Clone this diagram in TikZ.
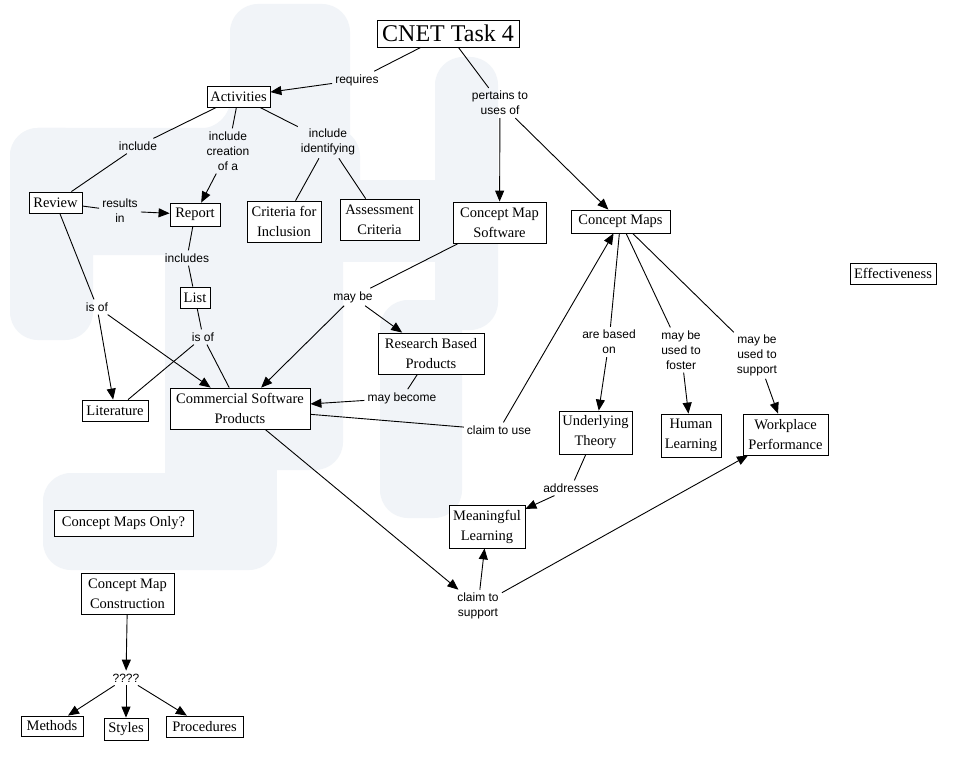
\documentclass[tikz,border=0pt]{standalone}
\usepackage{fontspec}
\setmainfont{Liberation Serif}
\newfontfamily\labelfont{Liberation Sans}
\usetikzlibrary{arrows.meta}
\definecolor{wm}{RGB}{241,244,248}
\begin{document}
\begin{tikzpicture}[x=1pt,y=-1pt,
  concept/.style={draw,line width=0.8pt,fill=white,inner sep=0pt,align=center,font=\fontsize{14.5}{20}\selectfont},
  lbl/.style={inner sep=3pt,align=center,font=\labelfont\fontsize{12}{15}\selectfont},
  con/.style={line width=0.9pt},
  arr/.style={con,-{Triangle[length=11pt,width=9pt]}},
  wmshape/.style={fill=wm,rounded corners=28pt},
]
\useasboundingbox[fill=white] (0,0) rectangle (961,762);
% watermark
\fill[wmshape] (10,128) rectangle (93,340);
\fill[wmshape] (10,128) rectangle (360,255);
\fill[wm] (93,150) rectangle (165,250);
\fill[wm] (200,128.5) to[out=0,in=-90] (230.5,98) -- (230.5,128.5) -- cycle;
\fill[wmshape] (165,150) rectangle (343,470);
\fill[wm] (165,300) rectangle (277,480);
\fill[wmshape] (43,473) rectangle (277,570);
\fill[wm] (150,473) rectangle (277,520);
\fill[wmshape] (230,4) rectangle (350,200);
\fill[wm] (300,180) rectangle (498,262);
\fill[wmshape] (435,57) rectangle (498,330);
\fill[wmshape] (380,300) rectangle (462,518);
\fill[wm] (435,250) rectangle (462,330);

% concepts
\node[concept,minimum width=142pt,minimum height=27pt,font=\fontsize{24}{28}\selectfont] (cnet) at (448,33.5) {CNET Task 4};
\node[concept,minimum width=63pt,minimum height=21pt] (act) at (238.5,96.5) {Activities};
\node[concept,minimum width=53pt,minimum height=21pt] (rev) at (55.5,202.5) {Review};
\node[concept,minimum width=50pt,minimum height=23pt] (rep) at (195,214.5) {Report};
\node[concept,minimum width=74pt,minimum height=41pt] (crit) at (284,221.5) {Criteria for\\Inclusion};
\node[concept,minimum width=79pt,minimum height=41pt] (ass) at (379.5,219.5) {Assessment\\Criteria};
\node[concept,minimum width=93pt,minimum height=41pt] (cms) at (499.5,222.5) {Concept Map\\Software};
\node[concept,minimum width=99pt,minimum height=23pt] (cm) at (620.5,221.5) {Concept Maps};
\node[concept,minimum width=86pt,minimum height=21pt] (eff) at (893,273.5) {Effectiveness};
\node[concept,minimum width=30pt,minimum height=21pt] (list) at (195,297.5) {List};
\node[concept,minimum width=106pt,minimum height=41pt] (rbp) at (431,353.5) {Research Based\\Products};
\node[concept,minimum width=66pt,minimum height=21pt] (lit) at (115,410.5) {Literature};
\node[concept,minimum width=140pt,minimum height=41pt] (csp) at (240,408.5) {Commercial Software\\Products};
\node[concept,minimum width=73pt,minimum height=43pt] (ut) at (595.5,432.5) {Underlying\\Theory};
\node[concept,minimum width=60pt,minimum height=43pt] (hl) at (691,435.5) {Human\\Learning};
\node[concept,minimum width=85pt,minimum height=41pt] (wp) at (785.5,434.5) {Workplace\\Performance};
\node[concept,minimum width=76pt,minimum height=43pt] (ml) at (487,526.5) {Meaningful\\Learning};
\node[concept,minimum width=139pt,minimum height=26pt] (cmo) at (123.5,523) {Concept Maps Only?};
\node[concept,minimum width=93pt,minimum height=41pt] (cmc) at (127.5,593.5) {Concept Map\\Construction};
\node[concept,minimum width=62pt,minimum height=20pt] (meth) at (52,726) {Methods};
\node[concept,minimum width=44pt,minimum height=22pt] (sty) at (126,729) {Styles};
\node[concept,minimum width=77pt,minimum height=21pt] (proc) at (204.5,726.5) {Procedures};

% linking phrases
\node[lbl] (req) at (357,80) {requires};
\node[lbl] (pert) at (500,103) {pertains to\\uses of};
\node[lbl] (inc) at (138,146) {include};
\node[lbl] (incc) at (228,151) {include\\creation\\of a};
\node[lbl] (inci) at (328,142) {include\\identifying};
\node[lbl] (res) at (120,211) {results\\in};
\node[lbl] (incl) at (187,258) {includes};
\node[lbl] (isofa) at (97,307) {is of};
\node[lbl] (isofb) at (203,337) {is of};
\node[lbl] (mayb) at (353,297) {may be};
\node[lbl] (mayc) at (402,398) {may become};
\node[lbl] (clu) at (499,430) {claim to use};
\node[lbl] (abo) at (609,342) {are based\\on};
\node[lbl] (fos) at (681,350) {may be\\used to\\foster};
\node[lbl] (sup) at (757,355) {may be\\used to\\support};
\node[lbl] (addr) at (571,488) {addresses};
\node[lbl] (cls) at (478,606) {claim to\\support};
\node[lbl] (qq) at (126,678) {????};

% connectors
\draw[con] (cnet) -- (req);
\draw[arr] (req) -- (act);
\draw[con] (cnet) -- (pert);
\draw[arr] (pert) -- (cms);
\draw[arr] (pert) -- (cm);
\draw[con] (act) -- (inc);
\draw[con] (inc) -- (rev);
\draw[con] (act) -- (incc);
\draw[arr] (incc) -- (rep);
\draw[con] (act) -- (inci);
\draw[con] (inci) -- (crit);
\draw[con] (inci) -- (ass);
\draw[con] (rev) -- (res);
\draw[arr] (res) -- (rep);
\draw[con] (rep) -- (incl);
\draw[con] (incl) -- (list);
\draw[con] (list) -- (isofb);
\draw[con] (isofb) -- (lit);
\draw[con] (isofb) -- (csp);
\draw[con] (rev) -- (isofa);
\draw[arr] (isofa) -- (lit);
\draw[arr] (isofa) -- (csp);
\draw[con] (cms) -- (mayb);
\draw[arr] (mayb) -- (csp);
\draw[arr] (mayb) -- (rbp);
\draw[con] (rbp) -- (mayc);
\draw[arr] (mayc) -- (csp);
\draw[con] (csp) -- (clu);
\draw[arr] (clu) -- (cm);
\draw[con] (cm) -- (abo);
\draw[arr] (abo) -- (ut);
\draw[con] (cm) -- (fos);
\draw[arr] (fos) -- (hl);
\draw[con] (cm) -- (sup);
\draw[arr] (sup) -- (wp);
\draw[con] (ut) -- (addr);
\draw[arr] (addr) -- (ml);
\draw[arr] (csp) -- (cls);
\draw[arr] (cls) -- (ml);
\draw[arr] (cls) -- (wp);
\draw[arr] (cmc) -- (qq);
\draw[arr] (qq) -- (meth);
\draw[arr] (qq) -- (sty);
\draw[arr] (qq) -- (proc);
\end{tikzpicture}
\end{document}
